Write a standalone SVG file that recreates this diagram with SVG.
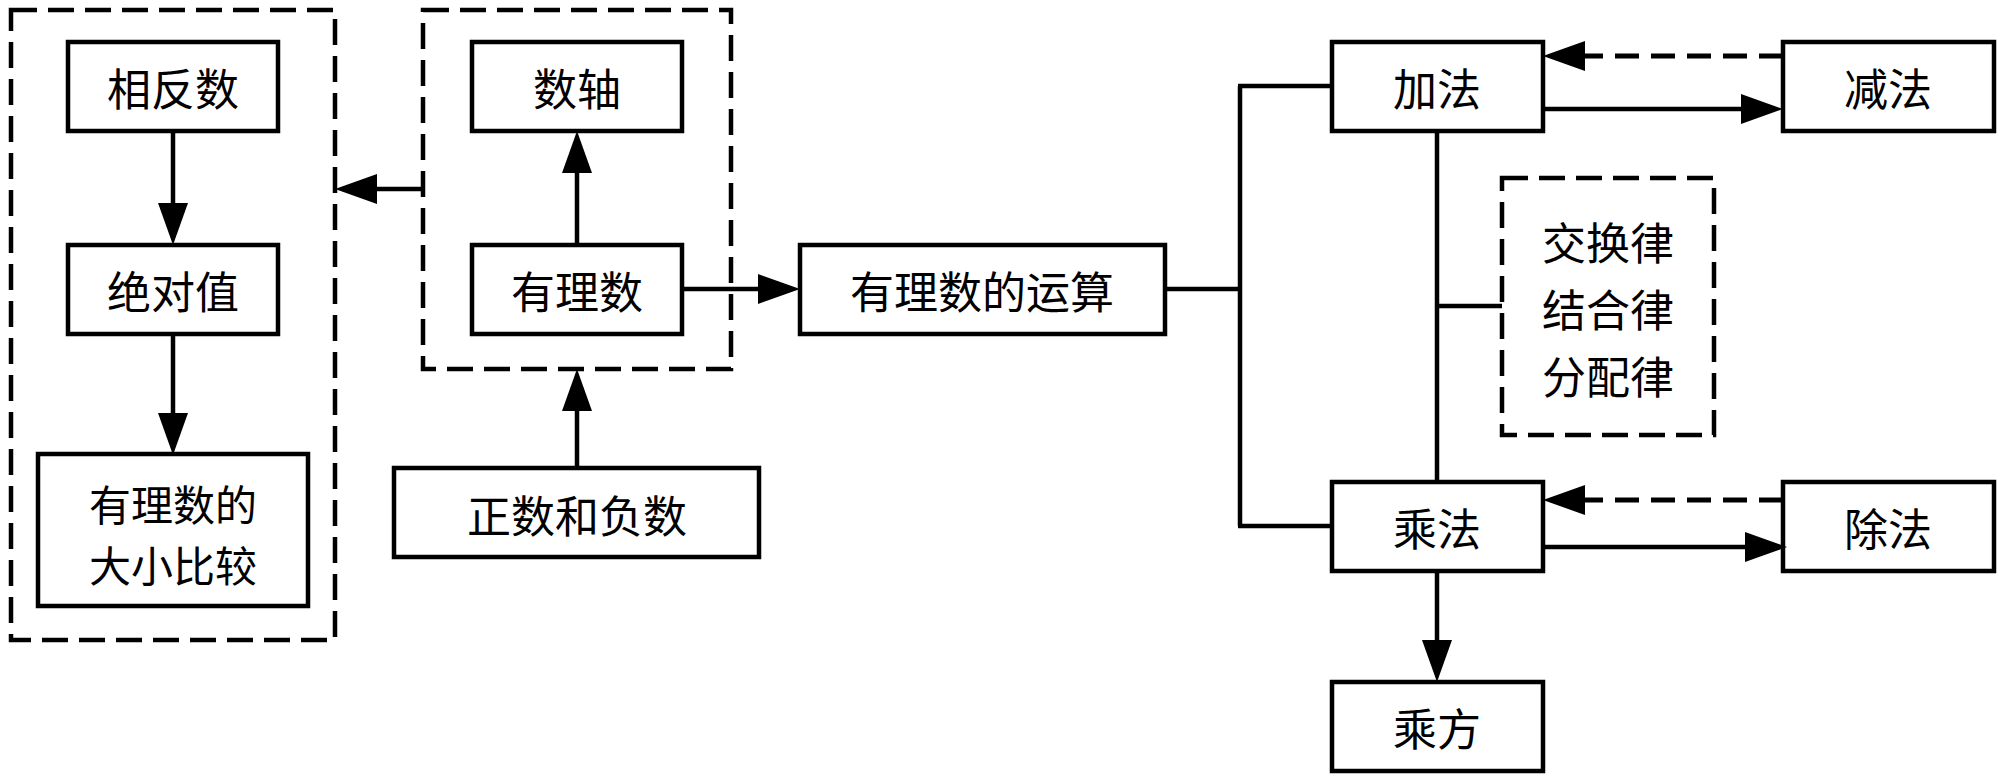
<svg xmlns="http://www.w3.org/2000/svg" width="2000" height="781" viewBox="0 0 2000 781">
<style>
.box{fill:#fff;stroke:#000;stroke-width:4.5}
.grp{fill:none;stroke:#000;stroke-width:4.5;stroke-dasharray:26 11}
.ln{fill:none;stroke:#000;stroke-width:4.5}
.dl{fill:none;stroke:#000;stroke-width:5;stroke-dasharray:24 12}
text{font-family:"Noto Sans CJK SC","Noto Sans",sans-serif;font-size:44px;fill:#000;text-anchor:middle}
.sm{font-size:42px}
</style>
<defs>
<marker id="ah" viewBox="0 -15 42 30" refX="0" refY="0" markerWidth="42" markerHeight="30" markerUnits="userSpaceOnUse" orient="auto">
<path d="M0,-15 L42,0 L0,15 Z" fill="#000"/>
</marker>
</defs>
<rect width="2000" height="781" fill="#fff"/>
<g id="group-left"><rect class="grp" x="11" y="10" width="324" height="630"/></g>
<g id="group-mid"><rect class="grp" x="423" y="10" width="308" height="359"/></g>
<g id="group-laws"><rect class="grp" x="1502" y="178" width="212" height="257"/>
<text x="1608" y="260">交换律</text><text x="1608" y="327">结合律</text><text x="1608" y="394">分配律</text></g>
<g id="n-xiangfanshu"><rect class="box" x="68" y="42" width="210" height="89"/><text x="173" y="106">相反数</text></g>
<g id="n-jueduizhi"><rect class="box" x="68" y="245" width="210" height="89"/><text x="173" y="309">绝对值</text></g>
<g id="n-bijiao"><rect class="box" x="38" y="454" width="270" height="152"/><text class="sm" x="173" y="521">有理数的</text><text class="sm" x="173" y="582">大小比较</text></g>
<g id="n-shuzhou"><rect class="box" x="472" y="42" width="210" height="89"/><text x="577" y="106">数轴</text></g>
<g id="n-youlishu"><rect class="box" x="472" y="245" width="210" height="89"/><text x="577" y="309">有理数</text></g>
<g id="n-zhengfu"><rect class="box" x="394" y="468" width="365" height="89"/><text x="577" y="533">正数和负数</text></g>
<g id="n-yunsuan"><rect class="box" x="800" y="245" width="365" height="89"/><text x="982" y="309">有理数的运算</text></g>
<g id="n-jiafa"><rect class="box" x="1332" y="42" width="211" height="89"/><text x="1437" y="106">加法</text></g>
<g id="n-jianfa"><rect class="box" x="1783" y="42" width="211" height="89"/><text x="1888" y="106">减法</text></g>
<g id="n-chengfa"><rect class="box" x="1332" y="482" width="211" height="89"/><text x="1437" y="546">乘法</text></g>
<g id="n-chufa"><rect class="box" x="1783" y="482" width="211" height="89"/><text x="1888" y="546">除法</text></g>
<g id="n-chengfang"><rect class="box" x="1332" y="682" width="211" height="89"/><text x="1437" y="746">乘方</text></g>
<g id="connectors">
<line class="ln" x1="173" y1="131" x2="173" y2="203" marker-end="url(#ah)"/>
<line class="ln" x1="173" y1="334" x2="173" y2="413" marker-end="url(#ah)"/>
<line class="ln" x1="577" y1="245" x2="577" y2="173" marker-end="url(#ah)"/>
<line class="ln" x1="577" y1="468" x2="577" y2="411" marker-end="url(#ah)"/>
<line class="ln" x1="423" y1="189" x2="377" y2="189" marker-end="url(#ah)"/>
<line class="ln" x1="682" y1="289" x2="758" y2="289" marker-end="url(#ah)"/>
<path class="ln" d="M1165,289 H1240 M1240,86 V526 M1238,86 H1332 M1238,526 H1332"/>
<line class="ln" x1="1543" y1="109" x2="1741" y2="109" marker-end="url(#ah)"/>
<line class="dl" x1="1783" y1="56" x2="1585" y2="56" marker-end="url(#ah)"/>
<line class="ln" x1="1543" y1="547" x2="1745" y2="547" marker-end="url(#ah)"/>
<line class="dl" x1="1783" y1="500" x2="1585" y2="500" marker-end="url(#ah)"/>
<path class="ln" d="M1437,131 V482 M1435,306 H1502"/>
<line class="ln" x1="1437" y1="571" x2="1437" y2="640" marker-end="url(#ah)"/>
</g>
</svg>
